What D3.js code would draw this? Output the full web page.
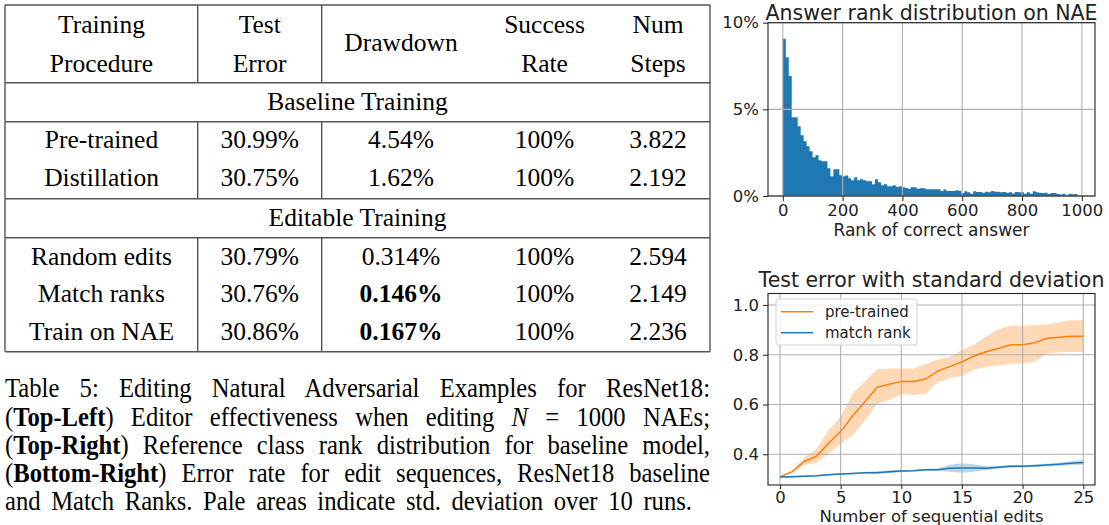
<!DOCTYPE html>
<html>
<head>
<meta charset="utf-8">
<script src="https://cdn.jsdelivr.net/npm/d3@7"></script>
<style>
  body { margin: 0; background: #fff; }
  svg { display: block; }
</style>
</head>
<body>
<svg id="fig" width="1109" height="525"></svg>
<script>
// ---------- table data ----------
var headerCols = [["Training", "Procedure"], ["Test", "Error"], ["Drawdown"], ["Success", "Rate"], ["Num", "Steps"]];
var sectionNames = ["Baseline Training", "Editable Training"];
var baselineRows = [
    ["Pre-trained", "30.99%", "4.54%", "100%", "3.822"],
    ["Distillation", "30.75%", "1.62%", "100%", "2.192"]
];
var editableRows = [
    ["Random edits", "30.79%", "0.314%", "100%", "2.594"],
    ["Match ranks", "30.76%", "0.146%", "100%", "2.149"],
    ["Train on NAE", "30.86%", "0.167%", "100%", "2.236"]
];
var boldCells = ["0.146%", "0.167%"];

// caption: each line is a list of [text, style] pieces (n normal, b bold, i italic)
var captionLines = [
    [["Table 5: Editing Natural Adversarial Examples for ResNet18:", "n"]],
    [["(", "n"], ["Top-Left", "b"], [") Editor effectiveness when editing ", "n"], ["N", "i"], [" = 1000 NAEs;", "n"]],
    [["(", "n"], ["Top-Right", "b"], [") Reference class rank distribution for baseline model,", "n"]],
    [["(", "n"], ["Bottom-Right", "b"], [") Error rate for edit sequences, ResNet18 baseline", "n"]],
    [["and Match Ranks. Pale areas indicate std. deviation over 10 runs.", "n"]]
];

// ---------- histogram data (percent of NAEs per rank bin) ----------
var rankBinWidth = 9.95;
var rankPercent = [
    9.07, 8.0, 6.93, 4.55, 4.55, 4.03, 3.51, 3.16, 2.87, 2.58,
    2.24, 2.35, 2.06, 2.0, 2.0, 1.6, 1.14, 1.54, 1.54, 1.2,
    1.14, 1.18, 1.02, 0.91, 1.08, 0.91, 0.96, 0.91, 0.85, 0.85,
    0.68, 0.96, 0.79, 0.62, 0.68, 0.56, 0.56, 0.62, 0.52, 0.56,
    0.50, 0.46, 0.42, 0.50, 0.50, 0.42, 0.44, 0.44, 0.39, 0.39,
    0.39, 0.39, 0.39, 0.29, 0.37, 0.29, 0.29, 0.29, 0.33, 0.31,
    0.17, 0.27, 0.21, 0.13, 0.27, 0.23, 0.23, 0.19, 0.25, 0.21,
    0.29, 0.25, 0.25, 0.21, 0.23, 0.19, 0.21, 0.15, 0.23, 0.21,
    0.21, 0.13, 0.21, 0.13, 0.27, 0.21, 0.19, 0.17, 0.19, 0.12,
    0.17, 0.17, 0.12, 0.08, 0.13, 0.04, 0.12, 0.10, 0.12
];
var rankTicks = [0, 200, 400, 600, 800, 1000];
var pctTicks = [0, 5, 10];

// ---------- test error data ----------
var editSteps = [0, 1, 2, 3, 4, 5, 6, 7, 8, 9, 10, 11, 12, 13, 14, 15, 16, 17, 18, 19, 20, 21, 22, 23, 24, 25];
var pretrainedMean = [0.309, 0.330, 0.371, 0.392, 0.444, 0.491, 0.555, 0.611, 0.669, 0.681, 0.692, 0.692, 0.702,
    0.734, 0.752, 0.771, 0.795, 0.812, 0.825, 0.840, 0.840, 0.848, 0.866, 0.870, 0.874, 0.874];
var pretrainedLow = [0.308, 0.325, 0.357, 0.365, 0.401, 0.444, 0.475, 0.536, 0.601, 0.618, 0.641, 0.638, 0.643,
    0.689, 0.705, 0.714, 0.741, 0.752, 0.757, 0.764, 0.764, 0.772, 0.805, 0.809, 0.811, 0.811];
var pretrainedHigh = [0.310, 0.333, 0.387, 0.421, 0.495, 0.551, 0.645, 0.692, 0.742, 0.745, 0.745, 0.745, 0.763,
    0.781, 0.792, 0.819, 0.841, 0.874, 0.902, 0.916, 0.916, 0.919, 0.922, 0.930, 0.939, 0.939];
var matchMean = [0.309, 0.310, 0.312, 0.314, 0.318, 0.321, 0.323, 0.326, 0.326, 0.330, 0.333, 0.334, 0.338,
    0.338, 0.344, 0.345, 0.345, 0.344, 0.348, 0.352, 0.352, 0.354, 0.357, 0.360, 0.364, 0.367];
var matchLow = [0.307, 0.307, 0.309, 0.311, 0.315, 0.318, 0.320, 0.323, 0.322, 0.324, 0.329, 0.331, 0.334,
    0.334, 0.330, 0.326, 0.330, 0.336, 0.342, 0.346, 0.347, 0.349, 0.352, 0.354, 0.357, 0.358];
var matchHigh = [0.311, 0.313, 0.315, 0.317, 0.321, 0.324, 0.326, 0.329, 0.332, 0.336, 0.337, 0.337, 0.342,
    0.343, 0.358, 0.364, 0.360, 0.352, 0.354, 0.357, 0.357, 0.359, 0.362, 0.366, 0.372, 0.376];
var errorTicks = [0.4, 0.6, 0.8, 1.0];
var stepTicks = [0, 5, 10, 15, 20, 25];

var svg = d3.select("#fig");
var serif = "'Liberation Serif', 'Times New Roman', serif";
var sans = "'DejaVu Sans', sans-serif";
var blue = "#1f77b4", orange = "#ff7f0e", gridColor = "#b0b0b0";

// ================= TABLE =================
var colCenters = [101.5, 259.7, 401, 544.5, 658];
var tableLeft = 5, tableRight = 710;
var hRules = [5, 82.7, 121.7, 198.7, 237.7, 351.7];
var vInner = [197.7, 321.7];
var vSpans = [[5, 82.7], [121.7, 198.7], [237.7, 351.7]];

var table = svg.append("g").attr("class", "table");
table.selectAll(".hrule").data(hRules).enter().append("line")
    .attr("x1", tableLeft).attr("x2", tableRight)
    .attr("y1", function(d) { return d; }).attr("y2", function(d) { return d; })
    .attr("stroke", "#555").attr("stroke-width", 1.4);
[tableLeft, tableRight].forEach(function(x) {
    table.append("line").attr("x1", x).attr("x2", x).attr("y1", hRules[0]).attr("y2", hRules[5])
        .attr("stroke", "#555").attr("stroke-width", 1.4);
});
vInner.forEach(function(x) {
    vSpans.forEach(function(s) {
        table.append("line").attr("x1", x).attr("x2", x).attr("y1", s[0]).attr("y2", s[1])
            .attr("stroke", "#555").attr("stroke-width", 1.4);
    });
});

var cellText = function(x, y, txt, bold) {
    table.append("text").attr("x", x).attr("y", y)
        .attr("text-anchor", "middle")
        .style("font-family", serif).style("font-size", "25.5px")
        .style("font-weight", bold ? "bold" : "normal")
        .text(txt);
};

// header
headerCols.forEach(function(lines, c) {
    if (lines.length == 2) {
        cellText(colCenters[c], 33.3, lines[0]);
        cellText(colCenters[c], 71.7, lines[1]);
    } else {
        cellText(colCenters[c], 50.5, lines[0]);
    }
});
// sections
cellText((tableLeft + tableRight) / 2, 110, sectionNames[0]);
cellText((tableLeft + tableRight) / 2, 225.5, sectionNames[1]);
var rowY1 = [148.3, 186];
baselineRows.forEach(function(row, r) {
    row.forEach(function(v, c) { cellText(colCenters[c], rowY1[r], v, boldCells.indexOf(v) != -1); });
});
var rowY2 = [264.5, 302, 339.5];
editableRows.forEach(function(row, r) {
    row.forEach(function(v, c) { cellText(colCenters[c], rowY2[r], v, boldCells.indexOf(v) != -1); });
});

// ================= CAPTION =================
// the PDF text is a bit condensed, so squeeze the glyphs horizontally
var capScale = 0.93;
var capY = [397.5, 425.7, 453.9, 482.1, 510.3];
var caption = svg.append("g").attr("transform", "translate(5,0) scale(" + capScale + ",1)");
captionLines.forEach(function(line, li) {
    var t = caption.append("text").attr("x", 0).attr("y", capY[li])
        .style("font-family", serif).style("font-size", "26.5px").style("white-space", "pre");
    line.forEach(function(seg) {
        t.append("tspan").text(seg[0])
            .style("font-weight", seg[1] == "b" ? "bold" : "normal")
            .style("font-style", seg[1] == "i" ? "italic" : "normal");
    });
    var target = (li < captionLines.length - 1 ? 705 : 687) / capScale;
    var nat = t.node().getComputedTextLength();
    var spaces = line.map(function(s) { return s[0]; }).join("").split(" ").length - 1;
    t.attr("word-spacing", (target - nat) / spaces);
});

// ================= HISTOGRAM =================
var hx = d3.scaleLinear().domain([-49.5, 1044]).range([768, 1095]);
var hy = d3.scaleLinear().domain([0, 10]).range([196, 22.7]);
var hist = svg.append("g");

// one outline path for all bins so that neighbouring bars leave no seams
var histPath = "M" + hx(0) + "," + hy(0);
rankPercent.forEach(function(d, i) {
    histPath += "L" + hx(i * rankBinWidth) + "," + hy(d) + "L" + hx((i + 1) * rankBinWidth) + "," + hy(d);
});
histPath += "L" + hx(rankPercent.length * rankBinWidth) + "," + hy(0) + "Z";
hist.append("path").attr("d", histPath).attr("fill", blue);

// grid above bars (matplotlib default)
hist.selectAll(".vgrid").data(rankTicks).enter().append("line")
    .attr("x1", function(d) { return hx(d); }).attr("x2", function(d) { return hx(d); })
    .attr("y1", hy(10)).attr("y2", hy(0))
    .attr("stroke", gridColor).attr("stroke-width", 1.1);
hist.selectAll(".hgrid").data(pctTicks).enter().append("line")
    .attr("x1", hx.range()[0]).attr("x2", hx.range()[1])
    .attr("y1", function(d) { return hy(d); }).attr("y2", function(d) { return hy(d); })
    .attr("stroke", gridColor).attr("stroke-width", 1.1);

hist.append("rect").attr("x", 768).attr("y", hy(10)).attr("width", 1095 - 768).attr("height", hy(0) - hy(10))
    .attr("fill", "none").attr("stroke", "#222").attr("stroke-width", 1.1);

var hxAxis = hist.append("g").attr("transform", "translate(0," + hy(0) + ")")
    .call(d3.axisBottom(hx).tickValues(rankTicks).tickSize(5).tickPadding(3).tickFormat(d3.format("d")));
var hyAxis = hist.append("g").attr("transform", "translate(768,0)")
    .call(d3.axisLeft(hy).tickValues(pctTicks).tickSize(5).tickPadding(4).tickFormat(function(d) { return d + "%"; }));
[hxAxis, hyAxis].forEach(function(a) {
    a.select(".domain").remove();
    a.selectAll("text").style("font-family", sans).style("font-size", "16.5px").attr("fill", "#222");
    a.selectAll("line").attr("stroke", "#222");
});

hist.append("text").attr("x", 931.5).attr("y", 19.5).attr("text-anchor", "middle")
    .style("font-family", sans).style("font-size", "20.5px").attr("fill", "#222")
    .text("Answer rank distribution on NAE");
hist.append("text").attr("x", 931.5).attr("y", 236).attr("text-anchor", "middle")
    .style("font-family", sans).style("font-size", "17px").attr("fill", "#222")
    .text("Rank of correct answer");

// ================= TEST ERROR LINES =================
var lx = d3.scaleLinear().domain([-0.99, 25.97]).range([768, 1095]);
var ly = d3.scaleLinear().domain([0.2765, 1.046]).range([485, 293.5]);
var lines = svg.append("g");

var band = function(lo, hi) {
    return d3.area()
        .x(function(d, i) { return lx(editSteps[i]); })
        .y0(function(d, i) { return ly(lo[i]); })
        .y1(function(d, i) { return ly(hi[i]); })(editSteps);
};
var path = function(vals) {
    return d3.line()
        .x(function(d, i) { return lx(editSteps[i]); })
        .y(function(d, i) { return ly(vals[i]); })(editSteps);
};

lines.append("path").attr("d", band(pretrainedLow, pretrainedHigh)).attr("fill", orange).attr("fill-opacity", 0.3);
lines.append("path").attr("d", band(matchLow, matchHigh)).attr("fill", blue).attr("fill-opacity", 0.3);

lines.selectAll(".vgrid").data(stepTicks).enter().append("line")
    .attr("x1", function(d) { return lx(d); }).attr("x2", function(d) { return lx(d); })
    .attr("y1", ly.range()[1]).attr("y2", ly.range()[0])
    .attr("stroke", gridColor).attr("stroke-width", 1.1);
lines.selectAll(".hgrid").data(errorTicks).enter().append("line")
    .attr("x1", lx.range()[0]).attr("x2", lx.range()[1])
    .attr("y1", function(d) { return ly(d); }).attr("y2", function(d) { return ly(d); })
    .attr("stroke", gridColor).attr("stroke-width", 1.1);

lines.append("path").attr("d", path(pretrainedMean)).attr("fill", "none").attr("stroke", orange).attr("stroke-width", 1.5);
lines.append("path").attr("d", path(matchMean)).attr("fill", "none").attr("stroke", blue).attr("stroke-width", 1.5);

lines.append("rect").attr("x", 768).attr("y", 293.5).attr("width", 1095 - 768).attr("height", 485 - 293.5)
    .attr("fill", "none").attr("stroke", "#222").attr("stroke-width", 1.1);

var lxAxis = lines.append("g").attr("transform", "translate(0,485)")
    .call(d3.axisBottom(lx).tickValues(stepTicks).tickSize(4).tickPadding(2));
var lyAxis = lines.append("g").attr("transform", "translate(768,0)")
    .call(d3.axisLeft(ly).tickValues(errorTicks).tickSize(5).tickPadding(4).tickFormat(d3.format(".1f")));
[lxAxis, lyAxis].forEach(function(a) {
    a.select(".domain").remove();
    a.selectAll("text").style("font-family", sans).style("font-size", "16.5px").attr("fill", "#222");
    a.selectAll("line").attr("stroke", "#222");
});

lines.append("text").attr("x", 931.5).attr("y", 287).attr("text-anchor", "middle")
    .style("font-family", sans).style("font-size", "20.5px").attr("fill", "#222")
    .text("Test error with standard deviation");
lines.append("text").attr("x", 931.5).attr("y", 522).attr("text-anchor", "middle")
    .style("font-family", sans).style("font-size", "16.5px").attr("fill", "#222")
    .text("Number of sequential edits");

// legend
var legendItems = [["pre-trained", orange], ["match rank", blue]];
var legend = lines.append("g");
legend.append("rect").attr("x", 776).attr("y", 299).attr("width", 141).attr("height", 46).attr("rx", 3)
    .attr("fill", "#fff").attr("fill-opacity", 0.8).attr("stroke", "#d0d0d0").attr("stroke-width", 1);
legendItems.forEach(function(it, i) {
    var y = 311.7 + i * 21;
    legend.append("line").attr("x1", 781).attr("x2", 813).attr("y1", y).attr("y2", y)
        .attr("stroke", it[1]).attr("stroke-width", 1.5);
    legend.append("text").attr("x", 825).attr("y", y + 5.3)
        .style("font-family", sans).style("font-size", "15px").attr("fill", "#222")
        .text(it[0]);
});
</script>
</body>
</html>
